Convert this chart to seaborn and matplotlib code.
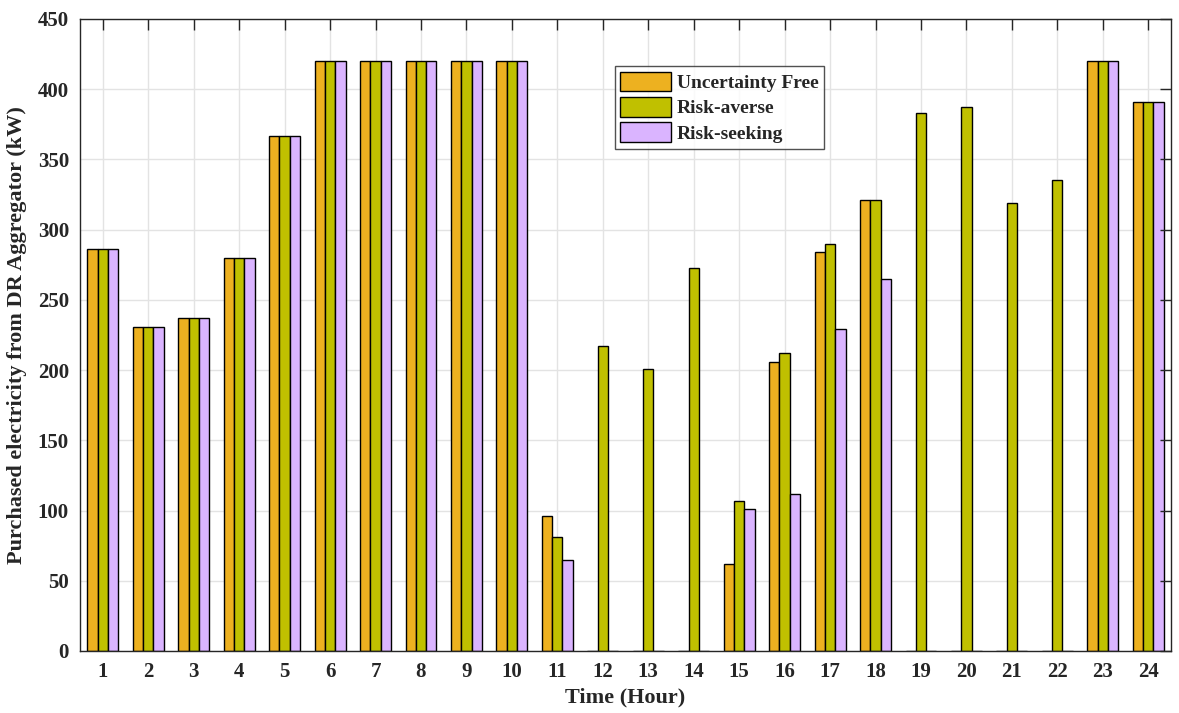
import numpy as np
import pandas as pd
import matplotlib
matplotlib.use("Agg")
import matplotlib.pyplot as plt
import seaborn as sns

hours = list(range(1, 25))
uncertainty_free = [286, 231, 237, 280, 367, 420, 420, 420, 420, 420, 96, 0,
                    0, 0, 62, 206, 284, 321, 0, 0, 0, 0, 420, 391]
risk_averse = [286, 231, 237, 280, 367, 420, 420, 420, 420, 420, 81, 217,
               201, 273, 107, 212, 290, 321, 383, 387, 319, 335, 420, 391]
risk_seeking = [286, 231, 237, 280, 367, 420, 420, 420, 420, 420, 65, 0,
                0, 0, 101, 112, 229, 265, 0, 0, 0, 0, 420, 391]
series_names = ["Uncertainty Free", "Risk-averse", "Risk-seeking"]
series_colors = ["#EDB120", "#C0C000", "#DAB4FF"]

df = pd.DataFrame({
    "Hour": hours * 3,
    "Power": uncertainty_free + risk_averse + risk_seeking,
    "Case": [series_names[0]] * 24 + [series_names[1]] * 24 + [series_names[2]] * 24,
})

sns.set_theme(style="white")
plt.rcParams["font.family"] = ["Liberation Serif", "DejaVu Serif"]
plt.rcParams["font.weight"] = "bold"

fig = plt.figure(figsize=(11.79, 7.13), dpi=100)
ax = fig.add_axes([0.0679, 0.0870, 0.9253, 0.8864])

sns.barplot(data=df, x="Hour", y="Power", hue="Case", hue_order=series_names,
            palette=series_colors, width=0.68, saturation=1, gap=0,
            edgecolor="black", linewidth=1.0, ax=ax, legend=True, errorbar=None)

ax.set_xlim(-0.5, 23.5)
ax.set_ylim(0, 450)
yt = np.arange(0, 451, 50)
xt = np.arange(24)
ax.set_yticks(yt)
ax.set_xticks(xt)
ax.set_xticklabels([str(h) for h in hours])

# grid sits behind the bars while the tick marks stay on top of them
ax.grid(False)
ax.set_axisbelow(False)
ax.vlines(xt, 0, 450, colors="#E3E3E3", linewidth=1.0, zorder=0.5)
ax.hlines(yt, -0.5, 23.5, colors="#E3E3E3", linewidth=1.0, zorder=0.5)

for side in ["top", "bottom", "left", "right"]:
    ax.spines[side].set_visible(True)
    ax.spines[side].set_color("#262626")
    ax.spines[side].set_linewidth(1.0)

ax.tick_params(axis="both", direction="in", length=8, width=1.0, color="#262626",
               top=True, right=True, labelsize=15, labelcolor="#262626", pad=8)
for lbl in ax.get_xticklabels() + ax.get_yticklabels():
    lbl.set_fontweight("bold")

ax.set_xlabel("Time (Hour)", fontsize=16, fontweight="bold", color="#262626", labelpad=4)
ax.set_ylabel("Purchased electricity from DR Aggregator (kW)", fontsize=16,
              fontweight="bold", color="#262626", labelpad=8)

leg = ax.legend(loc="upper left", bbox_to_anchor=(0.490, 0.926), borderaxespad=0,
                frameon=True, fancybox=False, edgecolor="#262626",
                prop={"size": 14, "weight": "bold"}, handlelength=2.6,
                handleheight=1.2, handletextpad=0.3, labelspacing=0.25,
                borderpad=0.3)
leg.get_frame().set_linewidth(1.0)
leg.set_zorder(5)

fig.savefig("out.png", dpi=100)
